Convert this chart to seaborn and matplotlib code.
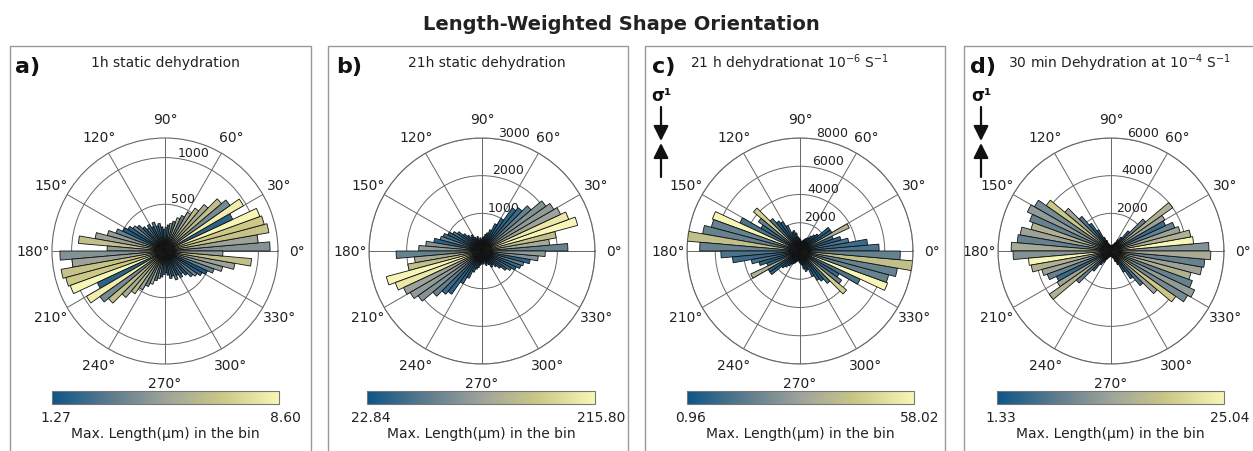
import numpy as np
import matplotlib
matplotlib.use("Agg")
import matplotlib.pyplot as plt
import seaborn as sns
from matplotlib.colors import Normalize
from matplotlib.cm import ScalarMappable
from matplotlib.patches import Rectangle, FancyArrowPatch

sns.set_style("white")
plt.rcParams["font.family"] = ["DejaVu Sans"]

# 5 degree bins from 0 to 180, axial data is mirrored to 180-360
bin_start = np.arange(0, 180, 5)

# summed length per bin (um)
len_a = [1125, 1000, 1130, 1100, 1080, 800, 970, 850, 790, 650, 560, 480,
         420, 380, 330, 300, 280, 250, 230, 260, 300, 280, 330, 290,
         330, 300, 340, 390, 420, 460, 500, 560, 640, 760, 930, 620]
len_b = [2280, 1800, 2000, 2630, 2450, 2300, 2200, 2070, 1700, 1500, 1400, 1000,
         800, 600, 500, 450, 380, 350, 300, 350, 300, 400, 350, 400,
         500, 450, 550, 650, 800, 900, 1000, 1100, 1150, 1300, 1500, 1680]
len_c = [5600, 4800, 3500, 3000, 2500, 3850, 2600, 2600, 1700, 1500, 1300, 1100,
         1000, 900, 800, 700, 700, 800, 900, 1000, 1300, 1500, 1400, 2000,
         2400, 2600, 3000, 4300, 3600, 3200, 4700, 6600, 6500, 7000, 8000, 7100]
len_d = [5200, 4400, 4300, 3800, 3600, 3200, 3300, 4000, 2400, 1400, 900, 700,
         500, 400, 350, 300, 300, 280, 280, 300, 350, 400, 600, 800,
         1300, 1800, 2400, 3200, 4200, 4700, 4900, 4600, 4400, 4900, 5000, 5300]

# max. grain length in each bin (um), used for the colour
max_a = [4.20, 4.94, 6.55, 6.77, 8.60, 2.00, 8.23, 3.84, 6.40, 5.30, 6.03, 4.94,
         3.47, 5.67, 2.74, 4.57, 2.00, 3.47, 2.37, 1.27, 2.74, 2.00, 3.10, 1.64,
         2.37, 3.47, 1.64, 2.74, 3.84, 2.00, 1.64, 3.47, 4.57, 4.94, 6.40, 4.57]
max_b = [80.7, 129.0, 157.9, 215.8, 200.4, 119.3, 109.7, 100.0, 80.7, 51.8, 42.1, 46.0,
         38.3, 42.1, 32.5, 42.1, 32.5, 42.1, 22.84, 42.1, 32.5, 38.3, 42.1, 32.5,
         42.1, 32.5, 42.1, 51.8, 42.1, 61.4, 42.1, 51.8, 80.7, 42.1, 100.0, 109.7]
max_c = [12.37, 9.52, 12.37, 6.67, 9.52, 35.20, 6.67, 6.67, 3.81, 6.67, 3.81, 6.67,
         3.81, 6.67, 3.81, 6.67, 3.81, 6.67, 0.96, 6.67, 3.81, 6.67, 3.81, 9.52,
         6.67, 3.81, 12.37, 46.61, 18.08, 9.52, 12.37, 58.02, 18.08, 18.08, 40.90, 18.08]
max_d = [10.81, 25.04, 15.56, 13.19, 8.44, 4.89, 13.19, 15.56, 8.44, 3.70, 2.52, 3.70,
         2.52, 3.70, 2.52, 3.70, 2.52, 3.70, 1.33, 3.70, 2.52, 3.70, 4.89, 3.70,
         4.89, 3.70, 6.07, 13.19, 19.11, 9.63, 12.00, 8.44, 15.56, 13.19, 8.44, 14.37]

letters = ["a)", "b)", "c)", "d)"]
titles = ["1h static dehydration", "21h static dehydration",
          "21 h dehydrationat 10$^{-6}$ S$^{-1}$",
          "30 min Dehydration at 10$^{-4}$ S$^{-1}$"]
cbar_min = [1.27, 22.84, 0.96, 1.33]
cbar_max = [8.60, 215.80, 58.02, 25.04]
r_max = [1210, 3000, 8000, 6000]
r_ticks = [[500, 1000], [1000, 2000, 3000], [2000, 4000, 6000, 8000], [2000, 4000, 6000]]
has_sigma = [False, False, True, True]

lengths = [len_a, len_b, len_c, len_d]
maxlens = [max_a, max_b, max_c, max_d]

cmap = sns.blend_palette(["#0d5587", "#5a7a8d", "#9ea39a", "#cbc786", "#f8f6b6"],
                         as_cmap=True)

W, H = 1253, 452
fig = plt.figure(figsize=(W / 100, H / 100), dpi=100)


def fx(x):
    return x / W


def fy(y):
    return 1 - y / H


fig.text(fx(621), fy(25), "Length-Weighted Shape Orientation", ha="center",
         va="center", fontsize=14, fontweight="bold", color="#222")

# layout in pixels
box_x = [(10, 311), (328, 628), (645, 945), (964, 1262)]
centers = [165, 482, 800, 1111]
cbar_x = [(52, 279), (367, 595), (687, 914), (997, 1224)]
letter_x = [15, 336, 652, 970]
title_pos = [(165, "center"), (487, "center"), (690, "left"), (1008, "left")]
sigma_x = [None, None, 661, 981]
cy, rad = 252, 113

for i in range(4):
    x0, x1 = box_x[i]
    fig.add_artist(Rectangle((fx(x0), fy(460)), (x1 - x0) / W, (460 - 47) / H,
                             transform=fig.transFigure, fill=False,
                             edgecolor="#999999", lw=1.0))
    fig.text(fx(letter_x[i]), fy(67), letters[i], ha="left", va="center",
             fontsize=16, fontweight="bold", color="#111")
    tx, ha = title_pos[i]
    fig.text(fx(tx), fy(63), titles[i], ha=ha, va="center", fontsize=10, color="#222")

    cx = centers[i]
    ax = fig.add_axes([fx(cx - rad), fy(cy + rad), 2 * rad / W, 2 * rad / H],
                      projection="polar")
    norm = Normalize(cbar_min[i], cbar_max[i])
    theta = np.deg2rad(np.concatenate([bin_start, bin_start + 180]) + 2.5)
    r = np.concatenate([lengths[i], lengths[i]])
    col = cmap(norm(np.concatenate([maxlens[i], maxlens[i]])))
    ax.set_axisbelow(True)
    ax.bar(theta, r, width=np.deg2rad(5), bottom=0, color=col,
           edgecolor="#111111", linewidth=0.6, zorder=3)
    ax.set_ylim(0, r_max[i])
    ax.set_rgrids(r_ticks[i], labels=[str(t) for t in r_ticks[i]], angle=82,
                  fontsize=9, color="#222")
    ax.set_thetagrids(np.arange(0, 360, 30),
                      labels=[f"{d}°" for d in range(0, 360, 30)], fontsize=10)
    ax.tick_params(axis="x", colors="#222", pad=3)
    ax.grid(True, color="#666666", lw=0.7)
    ax.spines["polar"].set_color("#666666")
    ax.spines["polar"].set_linewidth(0.8)

    c0, c1 = cbar_x[i]
    cax = fig.add_axes([fx(c0), fy(405), (c1 - c0) / W, 13 / H])
    cb = fig.colorbar(ScalarMappable(norm=norm, cmap=cmap), cax=cax,
                      orientation="horizontal")
    cb.set_ticks([])
    cb.outline.set_edgecolor("#777777")
    fig.text(fx(c0 + 4), fy(418), f"{cbar_min[i]:.2f}", ha="center", va="center",
             fontsize=10, color="#222")
    fig.text(fx(c1 + 6), fy(418), f"{cbar_max[i]:.2f}", ha="center", va="center",
             fontsize=10, color="#222")
    fig.text(fx((c0 + c1) / 2), fy(434), "Max. Length(μm) in the bin", ha="center",
             va="center", fontsize=10, color="#222")

    if has_sigma[i]:
        sx = sigma_x[i]
        fig.text(fx(sx), fy(96), "σ¹", ha="center", va="center", fontsize=12,
                 fontweight="bold", color="#111")
        for a, b in [((sx, 108), (sx, 142)), ((sx, 178), (sx, 144))]:
            fig.add_artist(FancyArrowPatch((fx(a[0]), fy(a[1])), (fx(b[0]), fy(b[1])),
                                           transform=fig.transFigure,
                                           arrowstyle="-|>,head_length=0.9,head_width=0.45",
                                           mutation_scale=10, color="#111", lw=1.6,
                                           shrinkA=0, shrinkB=0))

fig.savefig("out.png", dpi=100)
